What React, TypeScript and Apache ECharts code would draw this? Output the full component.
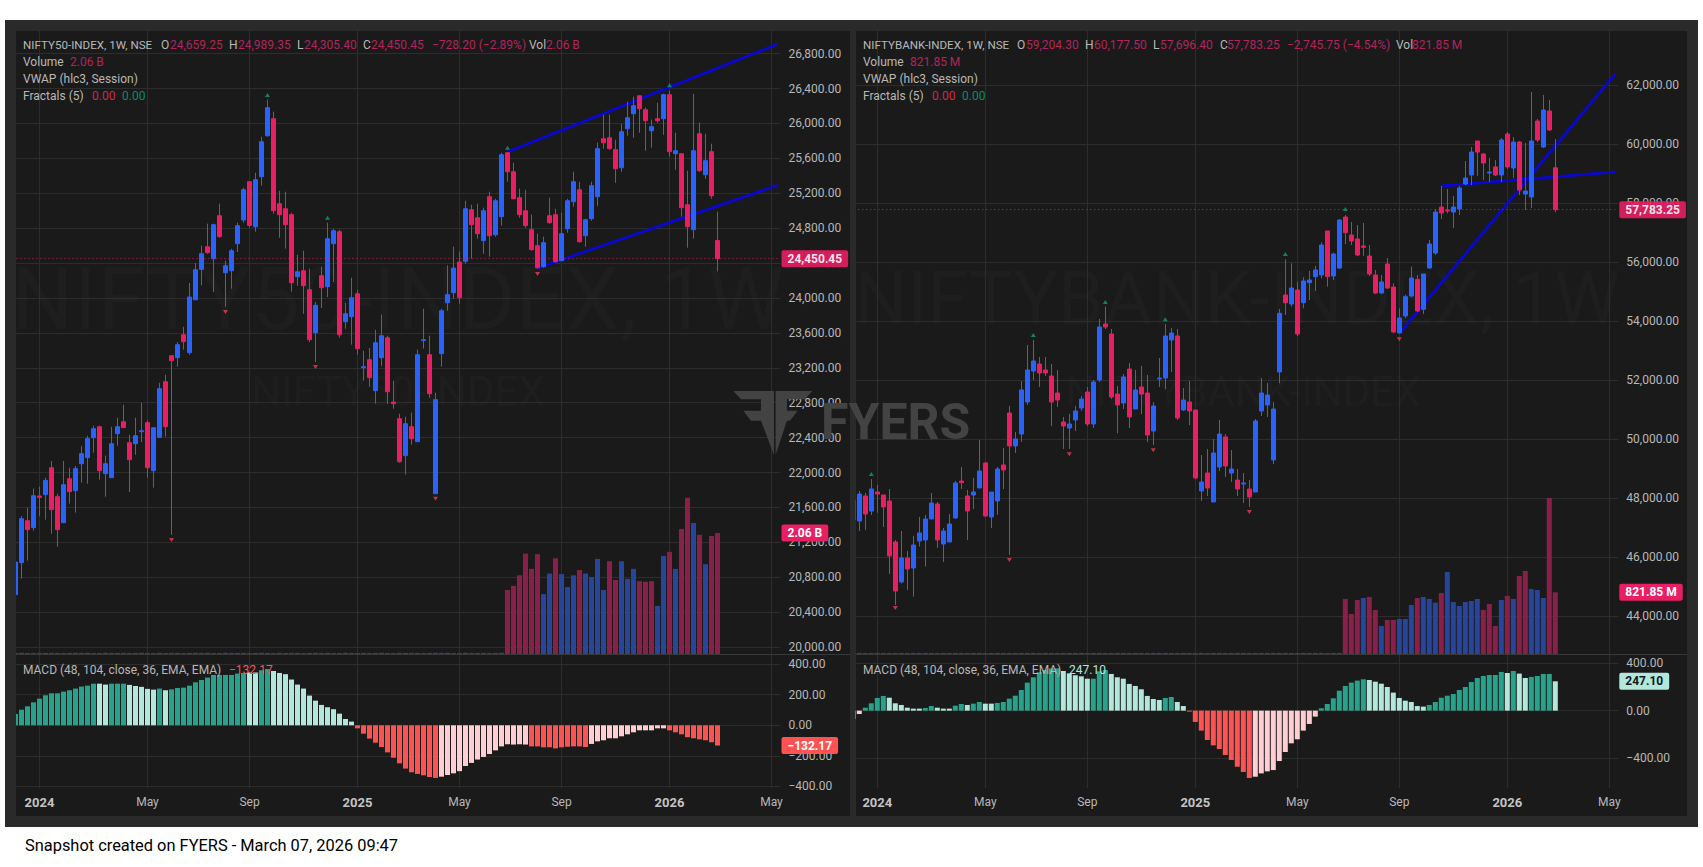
import React, { useEffect, useRef } from "react";
import * as echarts from "echarts";

// ---------- DATA (prices) ----------
// Weekly candles, each [open, close, low, high]
const niftyCandles = [
[20600,20974,20590,21012],[20967,21471,20783,21501],[21448,21345,20990,21597],[21368,21734,21333,21815],
[21731,21715,21498,21838],[21746,21910,21459,21941],[22055,21574,21299,22132],[21723,21345,21150,21757],
[21425,21860,21425,22132],[21929,21780,21643,22055],[21792,22044,21540,22074],[22101,22216,21883,22304],
[22170,22388,21872,22422],[22399,22502,22227,22537],[22525,22021,21918,22537],[21987,22101,21723,22193],
[21941,22330,21941,22525],[22445,22525,22307,22628],[22582,22514,22514,22777],[22342,22147,21776,22433],
[22330,22422,22204,22628],[22468,22479,22349,22800],[22571,22055,21941,22598],[22021,22514,21826,22514],
[22403,22961,22403,23029],[23041,22525,22410,23121],[23339,23281,21287,23339],[23316,23465,23213,23495],
[23579,23499,23408,23671],[23373,24011,23350,24172],[23980,24324,23975,24401],[24328,24508,24145,24599],
[24588,24519,24508,24852],[24450,24840,24068,24852],[24943,24703,24691,25081],[24290,24370,23900,24427],
[24313,24542,24107,24565],[24622,24829,24527,24863],[24894,25241,24863,25264],[25333,24832,24806,25333],
[24817,25356,24760,25436],[25390,25791,25287,25848],[25860,26181,25848,26273],[26055,25000,24966,26135],
[25081,24955,24691,25230],[25023,24840,24565,25218],[24955,24175,24072,24978],[24244,24301,24141,24496],
[24313,24141,23820,24542],[24095,23522,23495,24336],[23602,23916,23266,23954],[24256,24118,23885,24359],
[24130,24680,24011,24863],[24622,24771,24183,24794],[24760,23579,23545,24783],[23728,23820,23648,23946],
[23786,24003,23465,24233],[24049,23419,23350,24095],[23201,23213,23052,23396],[23293,23087,22984,23427],
[22938,23488,22789,23637],[23316,23568,23224,23809],[23545,22926,22785,23568],[22808,22789,22731,23052],
[22617,22124,22113,22674],[22193,22559,21975,22640],[22525,22388,22319,22686],[22353,23350,22353,23408],
[23511,23522,23419,23877],[23350,22903,22857,23568],[21757,22835,21757,22915],[23362,23854,23213,23877],
[23946,24038,23854,24374],[24061,24343,23992,24588],[24412,24003,23935,24531],[24420,25023,24393,25115],
[25012,24840,24450,25069],[24920,24737,24680,25081],[24657,25000,24508,25035],[25161,24714,24473,25218],
[24725,25115,24703,25138],[24932,25642,24829,25665],[25665,25447,25333,25673],[25447,25138,25138,25551],
[25150,24955,24920,25253],[25000,24829,24806,25241],[24783,24554,24542,24955],[24599,24347,24336,24737],
[24359,24634,24347,24703],[24943,24863,24852,25150],[24955,24416,24405,25023],[24427,24737,24427,24978],
[24794,25115,24748,25138],[25104,25333,25046,25447],[25241,24645,24634,25333],[24714,24897,24588,24909],
[24909,25287,24886,25333],[25161,25711,25058,25780],[25826,25780,25711,26101],[25837,25711,25700,26101],
[25700,25482,25321,25814],[25493,25906,25447,25997],[25940,26066,25860,26250],[26112,26204,25837,26307],
[26318,26169,25894,26318],[26158,26032,25688,26181],[25917,25963,25722,26043],[26055,26032,26009,26238],
[26055,26330,25871,26341],[26330,25677,25619,26376],[25654,25688,25470,25894],[25654,25035,24932,25654],
[25069,24817,24576,25459],[24783,25688,24680,26341],[25883,25459,25447,26009],[25413,25574,25367,25883],
[25677,25172,25138,25768],[24659.25,24450.45,24305.4,24989.35],
];

const bankCandles = [
[47264,47942,47200,48000],[47230,48145,46891,48247],[48078,47467,46925,48179],[47569,48315,47434,48654],
[48213,48145,47513,48450],[48112,47705,47027,48112],[47908,46044,45433,48315],[46518,44857,44382,46586],
[45162,45976,45117,46891],[45976,45603,44891,46213],[45637,46416,44665,46722],[46552,46823,46360,47366],
[46586,47298,45682,47434],[47298,47840,47298,48179],[47806,46586,46315,47874],[46450,46891,45840,46993],
[46518,47128,46518,47467],[47332,48518,47298,48586],[48586,48530,48315,49061],[48078,47569,46586,48281],
[48112,48213,47637,48688],[48349,48925,48349,49976],[49196,47400,47366,49230],[47366,48213,46993,48213],
[47908,48993,47434,49061],[49129,48959,48315,49705],[50891,49773,46078,51129],[49773,50010,49535,50247],
[50179,51671,49908,51976],[51264,52349,51162,53197],[52315,52654,52010,53366],[52552,52247,51773,52790],
[52349,52247,52146,52790],[52146,51264,50451,52552],[51569,51332,51095,52349],[50586,50451,49671,50756],
[50383,50518,49671,50857],[50654,50959,50281,51129],[51061,51366,50959,51468],[51603,50518,50451,51773],
[50518,51942,50383,52010],[52010,53807,51942,54078],[53908,53807,53739,54496],[53569,51434,51366,53739],
[51535,51162,50202,51807],[51230,52112,51027,52213],[52383,50756,50383,52586],[51027,51671,51027,52349],
[51773,51535,50857,52485],[51569,50145,49908,52180],[50281,51129,49806,51264],[52044,52078,51773,52756],
[52078,53502,51705,53908],[53366,53603,52281,53773],[53502,50722,50654,53739],[50993,51332,50959,51739],
[51264,50959,50484,51976],[50993,48688,48654,50993],[48247,48552,47908,49467],[48857,48349,48078,49671],
[47874,49535,47874,50010],[49061,50179,48925,50654],[50078,49095,48722,50179],[48857,48993,48552,49637],
[48620,48315,48078,48993],[48484,48518,47840,48857],[48315,48044,47705,48620],[48213,50620,48213,50688],
[50959,51569,50790,52078],[51162,51501,50756,51908],[49298,51027,49162,51264],[52281,54270,51897,54417],
[54892,54632,54214,56101],[54586,55129,54496,55965],[55061,53569,53502,55343],[54632,55366,54440,55490],
[55310,55400,54722,55705],[55513,55739,55027,55875],[55570,56586,55457,56677],[57061,55513,55174,57061],
[55536,56281,55400,56327],[55807,57434,55773,57468],[57536,57005,56620,57604],[56925,56722,56586,57366],
[56790,56247,56214,57265],[56553,56507,56214,57332],[56214,55603,55536,56586],[55570,54959,54925,55739],
[54959,55332,54925,55570],[55942,55129,55095,56146],[55163,53637,53592,55287],[53603,54112,53592,54440],
[54180,54835,54100,54892],[54858,55468,54812,55852],[55423,54349,54327,55570],[54406,55603,54247,55603],
[55807,56620,55773,56756],[56315,57705,56247,57807],[57875,57671,57468,58587],[57773,57739,57660,58485],
[57705,57875,57163,58248],[57807,58519,57604,58587],[58654,58858,58620,59434],[58959,59739,58620,59909],
[60112,59739,58926,60112],[59671,59366,58790,59705],[59027,59061,58722,59536],[59231,58959,58926,59468],
[58959,60146,58722,60214],[60349,59231,59163,60417],[59197,60078,58858,60248],[60078,58451,58282,60112],
[58315,58417,57773,60044],[58214,60112,57841,61773],[60790,60146,60078,60858],[59909,61163,59875,61671],
[61129,60485,60451,61502],[59204.3,57783.25,57696.4,60177.5],
];

// Volume: billions on the left chart, millions on the right chart
const niftyVolume = [
.018,.02,.018,.016,.02,.018,.02,.018,.016,.018,.02,.018,.02,.016,.018,.02,.018,.018,.02,.016,
.018,.02,.018,.016,.02,.018,.02,.018,.016,.018,.02,.018,.02,.016,.018,.02,.018,.018,.02,.016,
.018,.02,.018,.016,.02,.018,.02,.018,.016,.018,.02,.018,.02,.016,.018,.02,.018,.018,.02,.016,
.018,.02,.018,.016,.02,.018,.02,.018,.016,.018,.02,.018,.02,.016,.018,.02,.018,.018,.02,.016,.018,.02,
1.09,1.16,1.34,1.71,1.45,1.70,1.02,1.37,1.63,1.36,1.14,1.34,1.43,1.37,1.31,1.62,1.09,1.58,
1.26,1.58,1.28,1.45,1.24,1.23,1.24,.82,1.67,1.74,1.45,2.13,2.66,2.23,2.03,1.53,2.01,2.06,
];
const bankVolume = [
14,15,14,13,15,14,15,14,13,14,15,14,15,13,14,15,14,14,15,13,
14,15,14,13,15,14,15,14,13,14,15,14,15,13,14,15,14,14,15,13,
14,15,14,13,15,14,15,14,13,14,15,14,15,13,14,15,14,14,15,13,
14,15,14,13,15,14,15,14,13,14,15,14,15,13,14,15,14,14,15,13,14,15,
733,533,719,746,759,586,373,453,453,466,466,653,746,759,733,684,813,1092,
693,639,693,706,733,586,666,373,719,773,733,1039,1106,866,853,746,2078,821.85,
];
// Week indices of the taller volume bars that are drawn red
const niftyVolumeDown = [82,83,84,85,86,87,90,94,99,100,104,105,106,109,111,112,114,116,117];
const bankVolumeDown = [82,83,84,86,87,89,90,94,98,105,106,107,109,111,112,116,117];

const niftyMacd = [
74,102,124,150,174,196,209,209,220,229,240,253,259,272,272,266,272,272,272,264,257,251,238,233,240,229,235,244,246,259,
281,296,312,329,329,329,329,338,342,345,345,360,368,355,342,334,299,266,240,194,161,133,118,105,76,41,24,-20,-55,-87,
-114,-142,-177,-212,-249,-283,-307,-318,-327,-338,-344,-336,-325,-314,-300,-266,-246,-224,-207,-188,-164,-138,-124,-126,
-124,-126,-138,-138,-144,-144,-151,-144,-140,-138,-138,-142,-122,-105,-98,-85,-85,-72,-59,-46,-33,-33,-33,-20,-20,-33,
-46,-59,-78,-85,-92,-98,-111,-132.17,
];
const bankMacd = [
-70,-28,25,62,107,124,109,62,48,25,17,17,22,39,25,17,17,42,56,48,59,73,59,59,65,73,101,126,174,236,281,323,342,356,356,
334,314,298,289,269,269,331,342,309,281,269,225,208,180,124,98,90,107,115,73,39,-8,-95,-168,-247,-292,-323,-373,-415,
-472,-516,-567,-556,-528,-511,-500,-424,-348,-275,-241,-168,-112,-50,20,56,104,168,208,236,253,264,258,244,227,199,152,
107,84,73,39,34,48,73,109,126,140,174,199,241,275,292,300,300,326,317,334,312,275,284,292,309,309,247.1,
];
// Week-index ranges of MACD columns in the pale shade
const niftyMacdPale = [[14,15],[19,23],[25,25],[39,40],[43,56],[71,85],[96,108]];
const bankMacdPale = [[0,1],[6,11],[14,16],[19,19],[22,23],[35,39],[43,51],[54,55],[67,77],[86,95],[109,109],[111,112],[117,117]];

// Fractal markers: [week index, price]
const niftyFractalUp = [[42,26326],[52,24920],[82,25722],[109,26437]];
const niftyFractalDown = [[26,21226],[35,23839],[50,23209],[70,21700],[87,24275]];
const bankFractalUp = [[3,48823],[30,53535],[42,54654],[52,54067],[72,56281],[82,57807]];
const bankFractalDown = [[7,44281],[26,45908],[36,49490],[50,49626],[66,47535],[91,53389]];

// Trend lines: [week index, price]
const niftyTrendUpper = [[82,25673],[127,26911]];
const niftyTrendLower = [[87,24343],[127,25292]];
const bankTrendSteep = [[91,53592],[127,62387]];
const bankTrendFlat = [[98,58587],[127,59065]];

const niftyPriceTicks = [20000,20400,20800,21200,21600,22000,22400,22800,23200,23600,24000,24400,24800,25200,25600,26000,26400,26800];
// The 24,400 label is wholly hidden behind the last-price tag in the reference
const niftyPriceLabels = [20000,20400,20800,21200,21600,22000,22400,22800,23200,23600,24000,24800,25200,25600,26000,26400,26800];
const bankPriceTicks = [44000,46000,48000,50000,52000,54000,56000,58000,60000,62000];
const niftyMacdTicks = [-400,-200,0,200,400];
const bankMacdTicks = [-400,0,400];

// 128 weekly slots, starting on Monday 4 Dec 2023
const weeks: string[] = [];
for (let i = 0; i < 128; i++) {
  weeks.push(new Date(Date.UTC(2023, 11, 4 + i * 7)).toISOString().slice(0, 10));
}

const FONT = "Roboto";
const BLUE = "#2962ff";
const PINK = "#e91e63";
const AXIS_TEXT = "#b8b8b8";
const GRID = "#2d2d2d";
const PANEL = "#1a1a1a";
const FRAME = "#2a2a2a";
const HEAD_VALUE = "#b3245c";
const WATERMARK = "#1e1e1e";

const money = (v: number) =>
  v.toLocaleString("en-US", { minimumFractionDigits: 2, maximumFractionDigits: 2 }).replace("-", "\u2212");

const isAxisWeek = (d: string) => {
  const dt = new Date(d + "T00:00:00Z");
  return dt.getUTCDate() <= 7 && [0, 4, 8].includes(dt.getUTCMonth());
};
const axisWeekText = (d: string) => {
  const dt = new Date(d + "T00:00:00Z");
  const m = dt.getUTCMonth();
  if (m === 0) return `{y|${dt.getUTCFullYear()}}`;
  return m === 4 ? "May" : "Sep";
};

const tag = (text: string, bg: string, color: string) => ({
  show: true,
  position: "end",
  distance: 1,
  formatter: text,
  backgroundColor: bg,
  color,
  fontFamily: FONT,
  fontSize: 12,
  fontWeight: 700,
  lineHeight: 13,
  padding: [2, 6, 2, 6],
  borderRadius: 2,
});

interface PanelSpec {
  left: number;
  candles: number[][];
  priceMin: number;
  priceMax: number;
  priceTicks: number[];
  priceLabels: number[];
  volume: number[];
  volumeDown: number[];
  volumeMax: number;
  volumeTag: string;
  macd: number[];
  macdPale: number[][];
  macdMin: number;
  macdMax: number;
  macdTicks: number[];
  macdTagBg: string;
  macdTagColor: string;
  up: number[][];
  down: number[][];
  trends: number[][][];
}

function buildPanel(p: PanelSpec, xBase: number, yBase: number) {
  const width = 768;
  const last = p.candles[p.candles.length - 1];
  const grids = [
    { left: p.left, width, top: 31, height: 623 },
    { left: p.left, width, top: 654, height: 134 },
  ];
  const vertical = {
    show: true,
    alignWithLabel: true,
    interval: (_: number, v: string) => isAxisWeek(v),
    lineStyle: { color: GRID, width: 1 },
  };
  const xAxes = [
    {
      type: "category", gridIndex: yBase === 0 ? 0 : 2, data: weeks,
      axisLine: { show: false }, axisTick: { show: false }, axisLabel: { show: false }, splitLine: vertical,
    },
    {
      type: "category", gridIndex: yBase === 0 ? 1 : 3, data: weeks,
      axisLine: { show: false }, axisTick: { show: false },
      axisLabel: {
        show: true, margin: 8, color: AXIS_TEXT, fontFamily: FONT, fontSize: 12,
        interval: (_: number, v: string) => isAxisWeek(v),
        formatter: (v: string) => axisWeekText(v),
        rich: { y: { fontFamily: FONT, fontSize: 13, fontWeight: 700, color: "#c4c4c4" } },
      },
      splitLine: vertical,
    },
  ];
  const gridA = yBase === 0 ? 0 : 2;
  const gridB = gridA + 1;
  const labelStyle = { show: true, color: AXIS_TEXT, fontFamily: FONT, fontSize: 12, margin: 8, formatter: (v: number) => money(v) };
  const yAxes = [
    {
      type: "value", gridIndex: gridA, position: "right", min: p.priceMin, max: p.priceMax, scale: true,
      axisLine: { show: false },
      axisTick: { show: false, customValues: p.priceTicks },
      axisLabel: { ...labelStyle, customValues: p.priceLabels },
      splitLine: { show: true, lineStyle: { color: GRID, width: 1 } },
    },
    {
      type: "value", gridIndex: gridA, min: 0, max: p.volumeMax, show: false, splitLine: { show: false },
    },
    {
      type: "value", gridIndex: gridB, position: "right", min: p.macdMin, max: p.macdMax,
      axisLine: { show: false },
      axisTick: { show: false, customValues: p.macdTicks },
      axisLabel: { ...labelStyle, customValues: p.macdTicks },
      splitLine: { show: true, lineStyle: { color: GRID, width: 1 } },
    },
  ];
  const isPale = (i: number) => p.macdPale.some(([a, b]) => i >= a && i <= b);
  const macdLast = p.macd[p.macd.length - 1];
  const series: any[] = [
    {
      type: "bar", xAxisIndex: xBase, yAxisIndex: yBase + 1, barWidth: 5, z: 1, silent: true,
      data: p.volume.map((v, i) => {
        const candle = p.candles[i];
        const red = i < 82 ? candle[1] < candle[0] : p.volumeDown.includes(i);
        return { value: v, itemStyle: { color: red ? "#8a1f4a" : "#27459b" } };
      }),
      markLine: {
        silent: true, symbol: "none", animation: false,
        lineStyle: { color: "transparent", width: 0 },
        label: tag(p.volumeTag, PINK, "#ffffff"),
        data: [{ yAxis: p.volume[p.volume.length - 1] }],
        z: 6,
      },
    },
    ...p.trends.map((t) => ({
      type: "line", xAxisIndex: xBase, yAxisIndex: yBase, data: t, showSymbol: false, silent: true, z: 2,
      lineStyle: { color: "#0808d0", width: 2.8 },
    })),
    {
      type: "candlestick", xAxisIndex: xBase, yAxisIndex: yBase, z: 3, barWidth: 5, silent: true,
      itemStyle: { color: BLUE, color0: PINK, borderColor: BLUE, borderColor0: PINK, borderWidth: 1 },
      data: p.candles,
      markLine: {
        silent: true, symbol: "none", animation: false,
        lineStyle: { color: PINK, width: 1, type: [1, 3], opacity: 0.9 },
        label: tag(money(last[1]), PINK, "#ffffff"),
        data: [{ yAxis: last[1] }],
        z: 6,
      },
    },
    {
      type: "scatter", xAxisIndex: xBase, yAxisIndex: yBase, z: 4, silent: true,
      symbol: "triangle", symbolSize: [5, 4], itemStyle: { color: "#0f9a78" }, data: p.up,
    },
    {
      type: "scatter", xAxisIndex: xBase, yAxisIndex: yBase, z: 4, silent: true,
      symbol: "triangle", symbolRotate: 180, symbolSize: [5, 4], itemStyle: { color: "#ef3a52" }, data: p.down,
    },
    {
      type: "bar", xAxisIndex: xBase + 1, yAxisIndex: yBase + 2, barWidth: 5, z: 2, silent: true,
      data: p.macd.map((v, i) => ({
        value: v,
        itemStyle: {
          color: v >= 0 ? (isPale(i) ? "#b2e8dc" : "#26a38a") : isPale(i) ? "#ffcdd2" : "#ff5252",
        },
      })),
      markLine: {
        silent: true, symbol: "none", animation: false,
        lineStyle: { color: "transparent", width: 0 },
        label: tag(money(macdLast), p.macdTagBg, p.macdTagColor),
        data: [{ yAxis: macdLast }],
        z: 6,
      },
    },
  ];
  return { grids, xAxes, yAxes, series };
}

const txt = (text: string, x: number, y: number, fill: string, extra: any = {}) => ({
  type: "text",
  x,
  y,
  z: 20,
  silent: true,
  style: { text, fill, fontFamily: FONT, fontSize: 12, verticalAlign: "middle", textVerticalAlign: "middle", ...extra },
});

const rect = (x: number, y: number, width: number, height: number, fill: string, z: number) => ({
  type: "rect", z, silent: true, shape: { x, y, width, height }, style: { fill },
});

const hline = (x1: number, x2: number, y: number, stroke: string) => ({
  type: "line", z: 5, silent: true, shape: { x1, y1: y, x2, y2: y }, style: { stroke, lineWidth: 1 },
});

const legendNifty = [
  txt("NIFTY50-INDEX, 1W, NSE", 23, 45, AXIS_TEXT, { fontSize: 11.6 }),
  txt("O", 161, 45, AXIS_TEXT), txt("24,659.25", 170, 45, HEAD_VALUE),
  txt("H", 229, 45, AXIS_TEXT), txt("24,989.35", 238, 45, HEAD_VALUE),
  txt("L", 297, 45, AXIS_TEXT), txt("24,305.40", 304, 45, HEAD_VALUE),
  txt("C", 363, 45, AXIS_TEXT), txt("24,450.45", 371, 45, HEAD_VALUE),
  txt("\u2212728.20 (\u22122.89%)", 432, 45, HEAD_VALUE),
  txt("Vol", 529, 45, AXIS_TEXT), txt("2.06 B", 546, 45, HEAD_VALUE),
  txt("Volume", 23, 62, AXIS_TEXT), txt("2.06 B", 70, 62, HEAD_VALUE),
  txt("VWAP (hlc3, Session)", 23, 79, AXIS_TEXT),
  txt("Fractals (5)", 23, 96, AXIS_TEXT), txt("0.00", 92, 96, "#d0284f"), txt("0.00", 122, 96, "#0c8a6a"),
  txt("MACD (48, 104, close, 36, EMA, EMA)", 23, 670, AXIS_TEXT),
  txt("\u2212132.17", 229, 670, "#ff5252"),
];

const legendBank = [
  txt("NIFTYBANK-INDEX, 1W, NSE", 863, 45, AXIS_TEXT, { fontSize: 11.6 }),
  txt("O", 1017, 45, AXIS_TEXT), txt("59,204.30", 1026, 45, HEAD_VALUE),
  txt("H", 1085, 45, AXIS_TEXT), txt("60,177.50", 1094, 45, HEAD_VALUE),
  txt("L", 1153, 45, AXIS_TEXT), txt("57,696.40", 1160, 45, HEAD_VALUE),
  txt("C", 1220, 45, AXIS_TEXT), txt("57,783.25", 1227, 45, HEAD_VALUE),
  txt("\u22122,745.75 (\u22124.54%)", 1287, 45, HEAD_VALUE),
  txt("Vol", 1396, 45, AXIS_TEXT), txt("821.85 M", 1412, 45, HEAD_VALUE),
  txt("Volume", 863, 62, AXIS_TEXT), txt("821.85 M", 910, 62, HEAD_VALUE),
  txt("VWAP (hlc3, Session)", 863, 79, AXIS_TEXT),
  txt("Fractals (5)", 863, 96, AXIS_TEXT), txt("0.00", 932, 96, "#d0284f"), txt("0.00", 962, 96, "#0c8a6a"),
  txt("MACD (48, 104, close, 36, EMA, EMA)", 863, 670, AXIS_TEXT),
  txt("247.10", 1069, 670, "#b2e8dc"),
];

const watermarks = [
  txt("NIFTY50-INDEX, 1W", 398, 299, WATERMARK, { fontSize: 87, align: "center", textAlign: "center" }),
  txt("NIFTY50-INDEX", 398, 391, WATERMARK, { fontSize: 42, align: "center", textAlign: "center" }),
  txt("NIFTYBANK-INDEX, 1W", 1237, 298, WATERMARK, { fontSize: 74, align: "center", textAlign: "center" }),
  txt("NIFTYBANK-INDEX", 1243, 391, WATERMARK, { fontSize: 42, align: "center", textAlign: "center" }),
].map((e) => ({ ...e, z: -5 }));

const LOGO_FILL = "#434343";
const logo = {
  type: "group",
  x: 725,
  y: 380,
  scaleX: 1 / 3,
  scaleY: 1 / 3,
  z: 8,
  silent: true,
  children: [
    {
      type: "polygon", z: 8, silent: true, style: { fill: LOGO_FILL },
      shape: { points: [[25,33],[147,33],[147,225],[108,122],[78,122],[55,92],[108,92],[108,58],[48,58]] },
    },
    {
      type: "polygon", z: 8, silent: true, style: { fill: LOGO_FILL },
      shape: { points: [[152,33],[262,33],[240,58],[186,58],[186,92],[218,92],[195,122],[186,122],[152,225]] },
    },
  ],
};

export default function App() {
  const ref = useRef<HTMLDivElement>(null);
  useEffect(() => {
    document.body.style.margin = "0";
    const chart = echarts.init(ref.current!, undefined, { renderer: "svg" });
    const a = buildPanel(
      {
        left: 12.5, candles: niftyCandles, priceMin: 19920, priceMax: 27060, priceTicks: niftyPriceTicks, priceLabels: niftyPriceLabels,
        volume: niftyVolume, volumeDown: niftyVolumeDown, volumeMax: 10.61, volumeTag: "2.06 B",
        macd: niftyMacd, macdPale: niftyMacdPale, macdMin: -410, macdMax: 466, macdTicks: niftyMacdTicks,
        macdTagBg: "#ff5252", macdTagColor: "#ffffff",
        up: niftyFractalUp, down: niftyFractalDown, trends: [niftyTrendUpper, niftyTrendLower],
      },
      0, 0
    );
    const b = buildPanel(
      {
        left: 850.3, candles: bankCandles, priceMin: 42721, priceMax: 63841, priceTicks: bankPriceTicks, priceLabels: bankPriceTicks,
        volume: bankVolume, volumeDown: bankVolumeDown, volumeMax: 8298, volumeTag: "821.85 M",
        macd: bankMacd, macdPale: bankMacdPale, macdMin: -651, macdMax: 477, macdTicks: bankMacdTicks,
        macdTagBg: "#b2e8dc", macdTagColor: "#131722",
        up: bankFractalUp, down: bankFractalDown, trends: [bankTrendSteep, bankTrendFlat],
      },
      2, 3
    );
    chart.setOption({
      animation: false,
      backgroundColor: "#ffffff",
      textStyle: { fontFamily: FONT },
      grid: [...a.grids, ...b.grids],
      xAxis: [...a.xAxes, ...b.xAxes],
      yAxis: [...a.yAxes, ...b.yAxes],
      series: [...a.series, ...b.series],
      graphic: {
        elements: [
          rect(5, 20, 1693, 807, FRAME, -10),
          rect(16, 31, 834, 785, PANEL, -9),
          rect(856, 31, 831, 785, PANEL, -9),
          ...watermarks,
          logo,
          txt("FYERS", 821, 422, "#434343", { fontSize: 50, fontWeight: 700 }),
          rect(5, 31, 11, 785, FRAME, 10),
          rect(850, 31, 5.5, 785, FRAME, 10),
          rect(16, 788, 834, 28, PANEL, 0),
          rect(856, 788, 831, 28, PANEL, 0),
          hline(16, 850, 654.5, "#383838"),
          hline(856, 1687, 654.5, "#383838"),
          ...legendNifty,
          ...legendBank,
          txt("Snapshot created on FYERS - March 07, 2026 09:47", 25, 845, "#000000", { fontSize: 16.4 }),
        ],
      },
    });
    return () => chart.dispose();
  }, []);
  return (
    <div
      ref={ref}
      style={{ position: "absolute", left: 0, top: 0, width: 1703, height: 867, background: "#ffffff" }}
    />
  );
}
